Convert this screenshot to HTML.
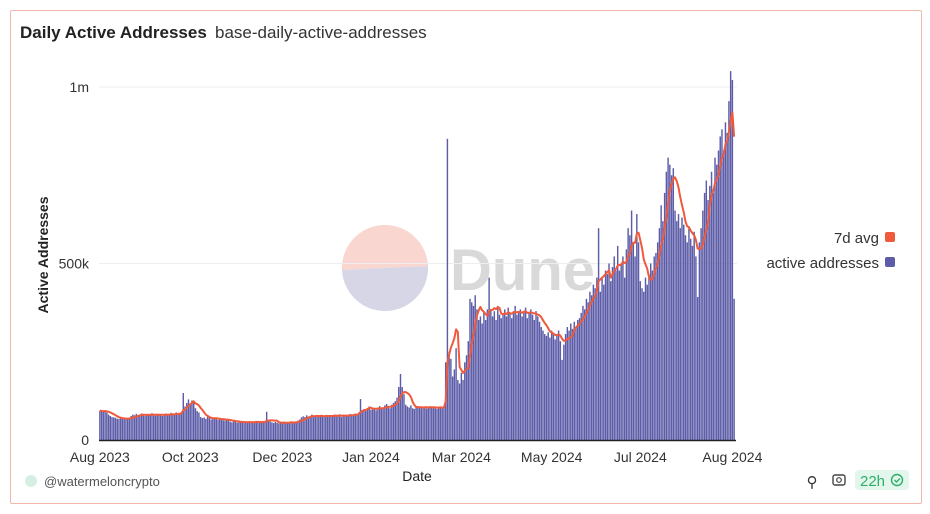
<!DOCTYPE html>
<html><head><meta charset="utf-8"><style>
body{margin:0;background:#fff;font-family:"Liberation Sans",sans-serif;}
#card{position:absolute;left:10px;top:10px;width:910px;height:492px;border:1px solid #f2b8ab;border-radius:2px;}
</style></head><body>
<div id="card"></div>
<svg id="chart" width="930" height="514" style="position:absolute;left:0;top:0">
<text x="20" y="38" font-size="17" font-weight="bold" fill="#222">Daily Active Addresses</text>
<text x="215" y="38" font-size="17" fill="#333">base-daily-active-addresses</text>
<g>
<path d="M342,270 A43,43 0 0 1 428,266 Z" fill="#f9d6cf"/>
<path d="M342,270 A43,43 0 0 0 428,266 Z" fill="#d6d6e6"/>
<text x="450" y="290" font-size="58" font-weight="bold" fill="#d9d9d9">Dune</text>
</g>
<g id="grid"></g><g id="bars"></g><g id="line"></g>
<line x1="99" y1="440.5" x2="736" y2="440.5" stroke="#222" stroke-width="1.5"/>
<g id="xt" font-size="14" fill="#333" text-anchor="middle"></g>
<g id="yt" font-size="14" fill="#333" text-anchor="end"></g>
<text x="417" y="481" font-size="14" fill="#222" text-anchor="middle">Date</text>
<text transform="translate(48,255) rotate(-90)" font-size="14" font-weight="bold" fill="#222" text-anchor="middle">Active Addresses</text>
<g><text x="879" y="243" font-size="15" fill="#333" text-anchor="end">7d avg</text><rect x="885" y="232" width="10" height="10" rx="2" fill="#f05a3c"/></g>
<g><text x="879" y="268" font-size="15" fill="#333" text-anchor="end">active addresses</text><rect x="885" y="257" width="10" height="10" rx="2" fill="#5c5ca8"/></g>
<circle cx="31" cy="481" r="6" fill="#d5efe3"/>
<text x="44" y="486" font-size="13" fill="#555">@watermeloncrypto</text>
<text x="812" y="487" font-size="15" fill="#333" text-anchor="middle">⚲</text>
<g><rect x="833" y="475" width="12" height="10" rx="2" fill="none" stroke="#444" stroke-width="1.4"/><circle cx="839" cy="480" r="2.3" fill="none" stroke="#444" stroke-width="1.2"/></g>
<g><rect x="855" y="470" width="54" height="20" rx="4" fill="#e3f6ec"/><text x="860" y="486" font-size="15" fill="#2eae6a">22h</text><circle cx="897" cy="480" r="5.5" fill="none" stroke="#2eae6a" stroke-width="1.4"/><path d="M894.5,480 l2,2 l3.5,-3.5" fill="none" stroke="#2eae6a" stroke-width="1.4"/></g>
</svg>
<script>
const dailyActive = [83,82,80,84,78,72,68,65,64,63,
60,60,62,61,59,60,63,61,
68,72,70,74,69,71,75,70,68,73,72,70,76,71,69,73,70,72,68,74,75,71,70,77,73,72,78,74,76,
80,133,95,105,115,100,112,108,90,82,78,
65,62,64,60,66,63,58,61,60,62,57,59,60,56,55,58,57,
52,50,54,51,49,53,50,52,48,51,50,53,49,52,50,54,48,51,50,52,49,
80,55,52,50,48,51,49,47,
50,48,52,47,51,49,53,48,50,52,55,58,
64,67,65,70,66,68,72,65,67,69,66,70,68,65,71,67,69,66,70,72,68,67,73,65,70,69,71,68,74,72,70,75,73,78,
116,85,88,82,90,95,86,92,88,84,90,96,92,88,98,102,95,90,100,105,
110,120,150,187,150,130,
100,95,92,98,90,88,94,96,92,90,95,93,89,92,96,94,90,93,88,91,95,92,90,
220,853,250,230,180,200,260,170,160,190,170,220,240,280,
400,390,380,410,370,340,
350,330,360,340,370,460,
370,350,365,340,380,355,345,360,370,350,375,360,345,365,380,355,360,370,350,365,375,345,360,370,355,340,365,350,335,
320,310,300,295,305,290,310,300,285,295,310,280,
227,270,
300,320,310,330,315,335,320,340,345,
360,380,370,400,390,420,410,440,430,460,
600,420,460,440,480,470,500,450,490,520,480,
550,480,500,520,460,540,600,580,650,560,520,640,560,
450,430,420,460,440,470,500,480,520,
530,560,600,665,620,700,
760,800,780,750,770,
650,620,640,600,630,610,
580,560,600,570,550,590,520,
405,560,
600,650,700,735,680,720,760,700,800,780,820,
860,880,820,900,870,960,1045,1020,400];
const xTickLabels = ["Aug 2023","Oct 2023","Dec 2023","Jan 2024","Mar 2024","May 2024","Jul 2024","Aug 2024"];
const xTickIndex = [0,52,105,156,208,260,311,364];
const yTickValues = [0,500,1000];
const yTickLabels = ["0","500k","1m"];

const NS="http://www.w3.org/2000/svg";
const X0=99, X1=735, Y0=440, Y1000=87;
const n=dailyActive.length, bw=(X1-X0)/n;
const xs=i=>X0+i*bw;
const ys=v=>Y0-(v/1000)*(Y0-Y1000);
function mk(t,a){const e=document.createElementNS(NS,t);for(const k in a)e.setAttribute(k,a[k]);return e;}
const grid=document.getElementById('grid'), yt=document.getElementById('yt'), xt=document.getElementById('xt');
yTickValues.forEach((v,i)=>{
  if(v>0){const g=mk('line',{x1:X0,x2:X1+2,y1:ys(v),y2:ys(v),stroke:'#eee'});
  
  grid.appendChild(g);}
  const t=mk('text',{x:89,y:ys(v)+5});t.textContent=yTickLabels[i];
  
  yt.appendChild(t);
});
xTickLabels.forEach((l,i)=>{
  const t=mk('text',{x:xs(xTickIndex[i])+bw/2,y:462});t.textContent=l;
  
  xt.appendChild(t);
});
const bars=document.getElementById('bars');
dailyActive.forEach((v,i)=>{
  const r=mk('rect',{x:xs(i)+0.15,y:ys(v),width:bw-0.3,height:Y0-ys(v),fill:'#5c5ca8'});
  
  bars.appendChild(r);
});
const avg=dailyActive.map((v,i)=>{const s=dailyActive.slice(Math.max(0,i-6),i+1);return s.reduce((a,b)=>a+b,0)/s.length;});
const pts=avg.map((v,i)=>(xs(i)+bw/2).toFixed(1)+','+ys(v).toFixed(1)).join(' ');
const pl=mk('polyline',{points:pts,fill:'none',stroke:'#f05a3c','stroke-width':2,'stroke-linejoin':'round'});


document.getElementById('line').appendChild(pl);
</script>
</body></html>
